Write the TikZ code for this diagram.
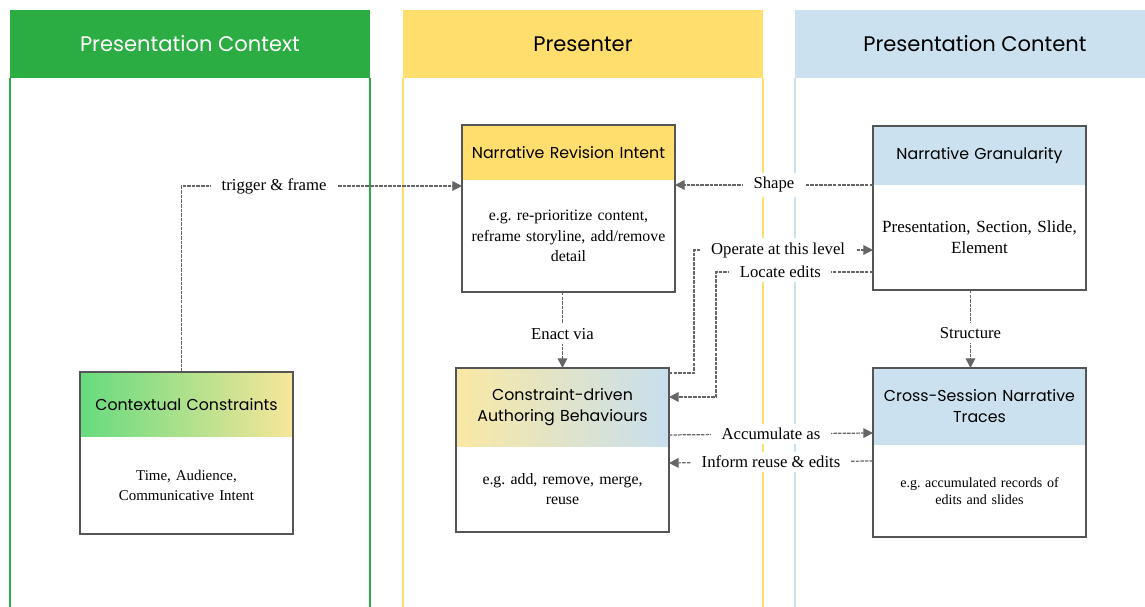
\documentclass[tikz,border=0pt]{standalone}
\usepackage{fontspec}
\setmainfont{Liberation Serif}
\newfontfamily\titlefont{Poppins}
\usetikzlibrary{calc,arrows.meta,positioning}
\definecolor{ctxgreen}{HTML}{2BAD43}
\definecolor{prsyellow}{HTML}{FFDE6E}
\definecolor{cntblue}{HTML}{CCE1EF}
\definecolor{ccgreen}{HTML}{66DB7E}
\definecolor{ccyellow}{HTML}{F8E69A}
\definecolor{cabyellow}{HTML}{F9E8A4}
\definecolor{cabblue}{HTML}{C8DFEE}
\definecolor{framegray}{HTML}{555555}
\definecolor{linkgray}{HTML}{666666}
\tikzset{lanehead/.style={minimum width=7.2cm, minimum height=1.36cm, inner sep=0pt, outer sep=0pt, font=\titlefont\fontsize{12}{15}\selectfont},
  lanerule/.style={line width=1.1pt},
  boxhead/.style={minimum width=4.26cm, text width=4.1cm, align=center, inner sep=0pt, outer sep=0pt, font=\titlefont\fontsize{9}{12}\selectfont},
  boxbody/.style={minimum width=4.26cm, text width=4.1cm, align=center, inner sep=0pt, outer sep=0pt, font=\fontsize{9}{11.5}\selectfont},
  boxframe/.style={draw=framegray, line width=1.2pt},
  link/.style={draw=linkgray, line width=0.7pt, dash pattern=on 2pt off 0.6pt, -{Triangle[length=5.5pt,width=5.5pt]}},
  lbl/.style={fill=white, inner xsep=6pt, inner ysep=2.5pt, text=black, font=\fontsize{9.5}{11}\selectfont}}

\begin{document}
\frenchspacing
\begin{tikzpicture}[x=0.02cm,y=-0.02cm]
    \clip (0,0) rectangle (1145,607);
    % swim lanes
    \foreach \lx/\lc/\lt/\tc/\ln in {10/ctxgreen/Presentation Context/white/ctx, 403/prsyellow/Presenter/black/prs, 795/cntblue/Presentation Content/black/cnt} {
        \node[lanehead, fill=\lc, text=\tc, anchor=north west] (\ln) at (\lx,10) {\lt};
        \draw[lanerule, \lc] (\ln.south west) -- ++(0,540);
        \draw[lanerule, \lc] (\ln.south east) -- ++(0,540);
    }

    % boxes
    \node[boxhead, fill=prsyellow, minimum height=1.1cm, anchor=north west] (nriH) at (462,125) {Narrative Revision Intent};
    \node[boxbody, minimum height=2.24cm, below=0pt of nriH] (nriB) {e.g. re-prioritize content,\\ reframe storyline, add/remove\\ detail};
    \draw[boxframe] (nriH.north west) rectangle (nriB.south east);

    \node[boxhead, fill=cntblue, minimum height=1.18cm, anchor=north west] (ngH) at (873,126) {Narrative Granularity};
    \node[boxbody, minimum height=2.1cm, below=0pt of ngH, font=\fontsize{9.7}{12}\selectfont] (ngB) {Presentation, Section, Slide,\\ Element};
    \draw[boxframe] (ngH.north west) rectangle (ngB.south east);

    \node[boxhead, left color=cabyellow, right color=cabblue, minimum height=1.58cm, anchor=north west] (cabH) at (456,368) {Constraint-driven\\ Authoring Behaviours};
    \node[boxbody, minimum height=1.7cm, below=0pt of cabH] (cabB) {e.g. add, remove, merge,\\ reuse};
    \draw[boxframe] (cabH.north west) rectangle (cabB.south east);

    \node[boxhead, fill=cntblue, minimum height=1.54cm, anchor=north west] (cstH) at (873,368) {Cross-Session Narrative\\ Traces};
    \node[boxbody, minimum height=1.84cm, below=0pt of cstH, font=\fontsize{8}{10}\selectfont] (cstB) {e.g. accumulated records of\\ edits and slides};
    \draw[boxframe] (cstH.north west) rectangle (cstB.south east);

    \node[boxhead, left color=ccgreen, right color=ccyellow, minimum height=1.3cm, anchor=north west] (ccH) at (80,372) {Contextual Constraints};
    \node[boxbody, minimum height=1.94cm, below=0pt of ccH, font=\fontsize{8.5}{11}\selectfont] (ccB) {Time, Audience,\\ Communicative Intent};
    \draw[boxframe] (ccH.north west) rectangle (ccB.south east);

    % connectors
    \coordinate (opA) at (694,250);
    \coordinate (loA) at (716,272);
    \draw[link] ($(ccH.north)+(-5,0)$) |- ($(nriB.north west)+(0,6)$) node[lbl, pos=0.665] {trigger \& frame};
    \draw[link] (ngH.south west) -- (ngH.south west -| nriB.east) node[lbl, midway] {Shape};
    \draw[link] (nriB.south -| cabH.north) -- (cabH.north) node[lbl, pos=0.55] {Enact via};
    \draw[link] ($(ngB.south)+(-9,0)$) -- ($(cstH.north)+(-9,0)$) node[lbl, pos=0.55] {Structure};
    \draw[link] ($(cabH.south east)+(0,-12)$) -- ($(cstH.south west)+(0,-12)$) node[lbl, midway] {Accumulate as};
    \draw[link] ($(cstB.north west)+(0,16)$) -- ($(cabB.north east)+(0,16)$) node[lbl, midway] {Inform reuse \& edits};
    \draw[link] ($(cabH.north east)+(0,5)$) -| (opA) -- (opA -| ngB.west) node[lbl, pos=0.47] {Operate at this level};
    \draw[link] (loA -| ngB.west) -- (loA) node[lbl, pos=0.59] {Locate edits} |- ($(cabH.north east)+(0,29)$);
\end{tikzpicture}
\end{document}
